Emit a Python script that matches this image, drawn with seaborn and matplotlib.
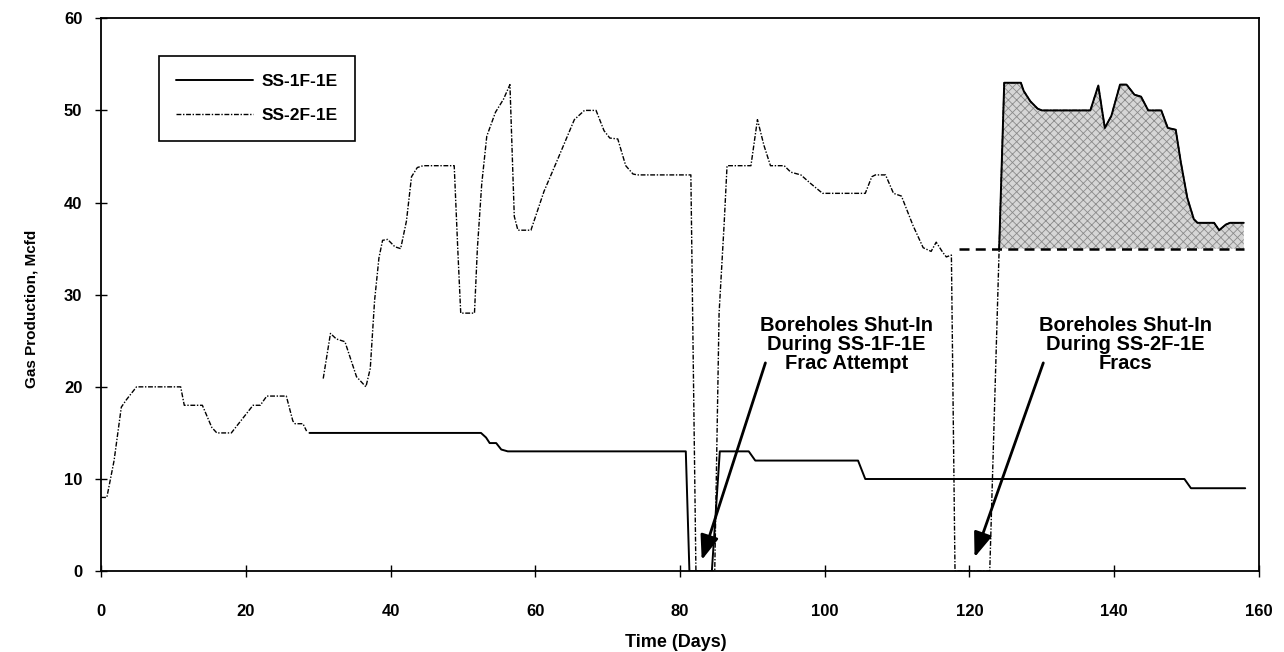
import matplotlib
matplotlib.use("Agg")
import matplotlib.pyplot as plt
import seaborn as sns
import pandas as pd

# SS-1F-1E (solid)
ss1_days = [28.8, 52.5, 53.2, 53.7, 54.6, 55.3, 56.2, 80.8, 81.3, 84.4, 85.5, 89.5,
            90.4, 104.6, 105.6, 149.7, 150.6, 158.1]
ss1_vals = [15, 15, 14.5, 13.9, 13.9, 13.2, 13, 13, 0, 0, 13, 13,
            12, 12, 10, 10, 9, 9]

# SS-2F-1E (dash-dot), early stretch before the break
ss2_early_days = [0, 0.8, 1.8, 2.8, 3.5, 4.9, 11.0, 11.5, 14.0, 15.3, 16.0, 18.0,
                  21.0, 22.0, 22.9, 25.6, 26.5, 26.8, 27.9, 28.4]
ss2_early_vals = [8, 8, 12, 17.8, 18.6, 20, 20, 18, 18, 15.6, 15, 15,
                  18, 18, 19, 19, 16.3, 16, 16, 15.2]

# SS-2F-1E after day 30
ss2_days = [30.7, 31.7, 32.5, 33.7, 35.3, 36.6, 37.2, 37.8, 38.4, 38.9, 39.6, 40.6,
            41.4, 42.2, 42.9, 43.7, 44.5, 48.8, 49.3, 49.7, 51.6, 52.0, 52.6, 53.3,
            54.5, 55.6, 56.5, 57.1, 57.6, 59.4, 61.2, 63.1, 65.4, 66.8, 68.4, 69.5,
            70.3, 71.4, 72.5, 73.5, 74.1, 81.5, 82.2, 84.8, 85.4, 86.1, 86.5, 89.8,
            90.7, 91.6, 92.5, 94.4, 95.3, 96.7, 98.0, 99.7, 105.6, 106.5, 107.0, 108.4,
            109.5, 110.6, 112.2, 113.6, 114.7, 115.4, 116.3, 116.8, 117.5, 118.0, 122.8, 124.1,
            124.8, 127.1, 127.5, 128.4, 129.4, 130.0, 136.7, 137.8, 138.7, 139.6, 140.8, 141.7,
            142.8, 143.7, 144.7, 146.5, 147.4, 148.5, 149.2, 150.1, 151.0, 151.5, 153.8, 154.5,
            155.4, 156.0, 157.9]
ss2_vals = [20.9, 25.8, 25.2, 24.9, 21.1, 20.0, 22, 29.4, 34, 35.9, 36.0, 35.2,
            35.0, 38, 42.8, 43.8, 44, 44, 34.8, 28, 28, 35, 42, 47.2,
            49.8, 51.2, 52.8, 38.5, 37, 37, 41.2, 44.7, 49.0, 50.0, 50.0, 47.8,
            47, 46.9, 44, 43.1, 43, 43, 0, 0, 28, 37.7, 44, 44,
            49, 46.2, 44, 44, 43.3, 43, 42.1, 41, 41, 42.8, 43, 43,
            41, 40.7, 37.5, 35.1, 34.7, 35.7, 34.6, 34.1, 34.3, 0, 0, 35,
            53, 53, 52.1, 51, 50.2, 50, 50, 52.7, 48.1, 49.4, 52.8, 52.8,
            51.7, 51.5, 50, 50, 48.1, 47.9, 44.4, 40.5, 38.2, 37.8, 37.8, 37,
            37.6, 37.8, 37.8]

# pre-frac baseline for SS-2F-1E
base_days = [118.5, 158.0]
base_vals = [35, 35]
base_level = 35
frac_start = 124.1

x_ticks = [0, 20, 40, 60, 80, 100, 120, 140, 160]
y_ticks = [0, 10, 20, 30, 40, 50, 60]

note1 = "Boreholes Shut-In\nDuring SS-1F-1E\nFrac Attempt"
note2 = "Boreholes Shut-In\nDuring SS-2F-1E\nFracs"


def main():
    sns.set_theme(style="ticks")
    plt.rcParams["font.family"] = ["Liberation Sans", "DejaVu Sans"]
    plt.rcParams["text.color"] = "black"
    plt.rcParams["hatch.linewidth"] = 0.6
    plt.rcParams["hatch.color"] = "#7a7a7a"

    fig, ax = plt.subplots(figsize=(12.84, 6.52), dpi=100)
    fig.subplots_adjust(left=0.0787, right=0.9805, top=0.972, bottom=0.124)

    s1 = pd.DataFrame({"day": ss1_days, "gas": ss1_vals})
    s2a = pd.DataFrame({"day": ss2_early_days, "gas": ss2_early_vals})
    s2 = pd.DataFrame({"day": ss2_days, "gas": ss2_vals})
    base = pd.DataFrame({"day": base_days, "gas": base_vals})

    # shaded gain after the SS-2F-1E fracs
    post = s2[s2["day"] >= frac_start]
    ax.fill_between(post["day"], base_level, post["gas"], facecolor="#d6d6d6",
                    hatch="xxxx", edgecolor="#8a8a8a", linewidth=0, zorder=1)

    sns.lineplot(data=s2a, x="day", y="gas", ax=ax, estimator=None, sort=False,
                 color="black", lw=1.0, zorder=3)
    ax.lines[-1].set_dashes((3.5, 1.2, 1, 1.2))
    sns.lineplot(data=s2, x="day", y="gas", ax=ax, estimator=None, sort=False,
                 color="black", lw=1.0, zorder=3)
    l2 = ax.lines[-1]
    l2.set_dashes((3.5, 1.2, 1, 1.2))
    sns.lineplot(data=post, x="day", y="gas", ax=ax, estimator=None, sort=False,
                 color="black", lw=1.4, zorder=4)
    sns.lineplot(data=s1, x="day", y="gas", ax=ax, estimator=None, sort=False,
                 color="black", lw=1.4, zorder=4)
    l1 = ax.lines[-1]
    sns.lineplot(data=base, x="day", y="gas", ax=ax, estimator=None, sort=False,
                 color="black", lw=1.8, zorder=4)
    ax.lines[-1].set_dashes((4, 2.5))

    ax.set_xlim(0, 160)
    ax.set_ylim(0, 60)
    ax.set_xticks(x_ticks)
    ax.set_yticks(y_ticks)
    ax.tick_params(axis="both", direction="inout", length=9, width=1,
                   color="black", labelsize=12, labelcolor="black")
    ax.tick_params(axis="x", pad=19)
    ax.tick_params(axis="y", pad=9)
    for lab in ax.get_xticklabels() + ax.get_yticklabels():
        lab.set_fontweight("bold")
    for sp in ax.spines.values():
        sp.set_visible(True)
        sp.set_color("black")
        sp.set_linewidth(1.3)

    ax.set_xlabel("Time (Days)", fontsize=13, fontweight="bold", color="black")
    ax.set_ylabel("Gas Production, Mcfd", fontsize=11, fontweight="bold", color="black")
    ax.xaxis.set_label_coords(0.4965, -0.114)
    ax.yaxis.set_label_coords(-0.054, 0.474)

    leg = ax.legend([l1, l2], ["SS-1F-1E", "SS-2F-1E"], loc="upper left",
                    bbox_to_anchor=(0.05, 0.931), borderaxespad=0, fancybox=False,
                    frameon=True, edgecolor="black", framealpha=1,
                    handlelength=4.4, handletextpad=0.5, labelspacing=1.1,
                    borderpad=1.0, prop={"size": 12.5, "weight": "bold"})
    leg.get_frame().set_linewidth(1.2)
    for t in leg.get_texts():
        t.set_color("black")

    arrow = dict(arrowstyle="-|>,head_length=0.75,head_width=0.28", color="black",
                 lw=2, mutation_scale=20, shrinkA=0, shrinkB=0)
    ax.annotate("", xy=(83.0, 1.2), xytext=(91.8, 22.6), arrowprops=arrow, zorder=5)
    ax.annotate("", xy=(120.7, 1.5), xytext=(130.2, 22.6), arrowprops=arrow, zorder=5)
    ax.text(103.0, 24.6, note1, ha="center", va="center", fontsize=14.5,
            fontweight="bold", linespacing=1.0, color="black", zorder=5)
    ax.text(141.5, 24.6, note2, ha="center", va="center", fontsize=14.5,
            fontweight="bold", linespacing=1.0, color="black", zorder=5)

    fig.savefig("out.png", dpi=100, facecolor="white")


if __name__ == "__main__":
    main()
